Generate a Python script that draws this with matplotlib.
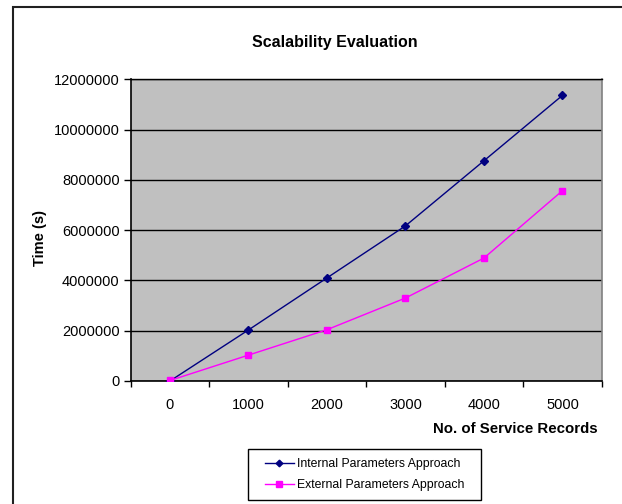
import matplotlib
matplotlib.use("Agg")
import matplotlib.pyplot as plt
from matplotlib.patches import Rectangle
import numpy as np

plt.rcParams['font.family'] = ['Liberation Sans', 'DejaVu Sans']

categories = ["0", "1000", "2000", "3000", "4000", "5000"]
internal = [0, 2030000, 4100000, 6170000, 8760000, 11360000]
external = [20000, 1030000, 2040000, 3300000, 4890000, 7570000]
yticks = [0, 2000000, 4000000, 6000000, 8000000, 10000000, 12000000]

W, H = 622, 504
fig = plt.figure(figsize=(W/100, H/100), dpi=100)
fig.patch.set_facecolor('white')

ax = fig.add_axes([130.7/W, 1-381/H, (601.7-130.7)/W, (381-79.3)/H])
ax.set_facecolor('#C0C0C0')

x = np.arange(len(categories)) + 0.5
ax.plot(x, internal, color='#000080', lw=1.0, marker='D', ms=4.5,
        markerfacecolor='#000080', markeredgecolor='#000080',
        label='Internal Parameters Approach', zorder=3)
ax.plot(x, external, color='#FF00FF', lw=1.0, marker='s', ms=5,
        markerfacecolor='#FF00FF', markeredgecolor='#FF00FF',
        label='External Parameters Approach', zorder=3)

ax.set_xlim(0, len(categories))
ax.set_ylim(0, 12000000)
ax.set_yticks(yticks)
ax.set_yticklabels([str(v) for v in yticks], fontsize=10.5)
ax.set_xticks(np.arange(len(categories)+1))
ax.set_xticklabels([])
ax.set_xticks(x, minor=True)
ax.set_xticklabels(categories, minor=True, fontsize=10.5)
ax.tick_params(axis='x', which='minor', length=0, pad=12)
ax.tick_params(axis='x', which='major', length=4, width=1, direction='out', color='black')
ax.tick_params(axis='y', length=5, width=1, direction='out', color='black', pad=3)

ax.yaxis.grid(True, color='black', lw=1)
ax.set_axisbelow(True)
for s in ['left', 'bottom']:
    ax.spines[s].set_color('black')
    ax.spines[s].set_linewidth(1.2)
ax.spines['top'].set_color('black')
ax.spines['top'].set_linewidth(1)
ax.spines['right'].set_color('#808080')
ax.spines['right'].set_linewidth(1.2)

fig.text(335/W, 1-42/H, 'Scalability Evaluation', ha='center', va='center',
         fontsize=11.5, fontweight='bold')
fig.text(40/W, 1-238/H, 'Time (s)', ha='center', va='center', rotation=90,
         fontsize=10.5, fontweight='bold')
fig.text(598/W, 1-429/H, 'No. of Service Records', ha='right', va='center',
         fontsize=10.8, fontweight='bold')

leg = fig.legend(loc='center', bbox_to_anchor=(365/W, 1-474.5/H),
                 fontsize=8.8, frameon=False, handlelength=2.3,
                 handletextpad=0.3, borderaxespad=0, labelspacing=0.75,
                 borderpad=0, markerscale=0.75)

fig.add_artist(Rectangle((248/W, 1-500/H), (481-248)/W, (500-449)/H,
                         transform=fig.transFigure, fill=False,
                         edgecolor='black', lw=1))

fig.add_artist(Rectangle((13/W, -0.1), 1.2, (1-7/H)+0.1, transform=fig.transFigure,
                         fill=False, edgecolor='#202020', lw=1.5))

fig.savefig('out.png', dpi=100)
